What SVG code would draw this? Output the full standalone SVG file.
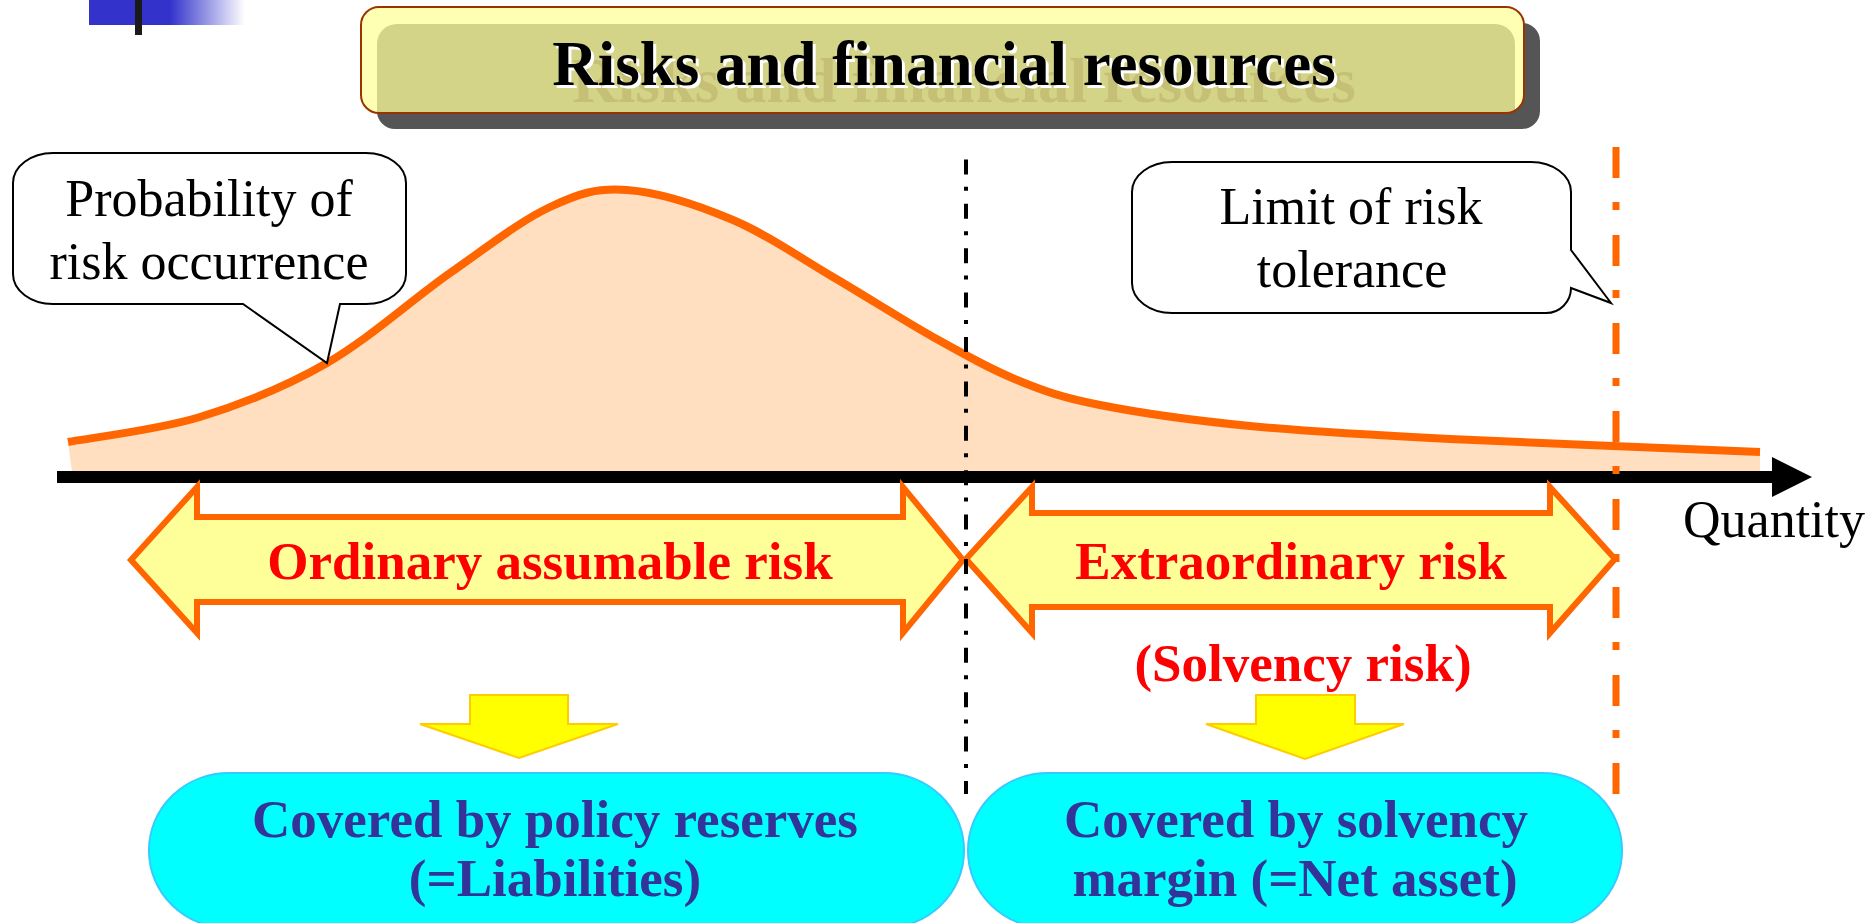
<svg xmlns="http://www.w3.org/2000/svg" width="1872" height="923" viewBox="0 0 1872 923">
  <style>
    .serif { font-family: "Liberation Serif", "Times New Roman", serif; }
    .callout-text { font-family: "Liberation Serif", "Times New Roman", serif; font-size: 52px; fill: #000; text-anchor: middle; }
    .callout { fill: #fff; stroke: #000; stroke-width: 2; stroke-linejoin: miter; }
    .risk-arrow { fill: #ffff99; stroke: #ff6600; stroke-width: 6; stroke-linejoin: miter; stroke-miterlimit: 10; }
    .risk-text { font-family: "Liberation Serif", "Times New Roman", serif; font-size: 53px; font-weight: bold; fill: #ff0000; text-anchor: middle; }
    .down-arrow { fill: #ffff00; stroke: #ffcc00; stroke-width: 2; stroke-linejoin: miter; }
    .cover-box { fill: #00ffff; stroke: #33ccff; stroke-width: 2; }
    .cover-text { font-family: "Liberation Serif", "Times New Roman", serif; font-size: 53px; font-weight: bold; fill: #333399; text-anchor: middle; }
    .title-text { font-family: "Liberation Serif", "Times New Roman", serif; font-size: 63px; font-weight: bold; text-anchor: middle; }
  </style>
  <defs>
    <linearGradient id="logoFade" x1="0" y1="0" x2="1" y2="0">
      <stop offset="0" stop-color="#3333cc"/>
      <stop offset="0.52" stop-color="#3333cc"/>
      <stop offset="1" stop-color="#ffffff"/>
    </linearGradient>
    <clipPath id="titleClip">
      <rect x="361" y="7" width="1163" height="106" rx="18" ry="18"/>
    </clipPath>
  </defs>

  <rect width="1872" height="923" fill="#ffffff"/>

  <!-- corner logo -->
  <g id="logo">
    <rect x="89" y="0" width="156" height="25" fill="url(#logoFade)"/>
    <rect x="135" y="0" width="7" height="35" fill="#1a1a1a"/>
  </g>

  <!-- title banner -->
  <g id="title">
    <rect x="377" y="23" width="1163" height="106" rx="18" ry="18" fill="#555555"/>
    <rect x="361" y="7" width="1163" height="106" rx="18" ry="18" fill="#ffffb3"/>
    <g clip-path="url(#titleClip)">
      <rect x="377" y="24" width="1138" height="130" rx="20" ry="20" fill="#d4d488"/>
      <text class="title-text" x="964" y="102" fill="#c6bf76">Risks and financial resources</text>
    </g>
    <rect x="361" y="7" width="1163" height="106" rx="18" ry="18" fill="none" stroke="#993300" stroke-width="2"/>
    <text class="title-text" x="947" y="88" fill="#ffffff">Risks and financial resources</text>
    <text class="title-text" x="944" y="85" fill="#000000">Risks and financial resources</text>
  </g>

  <!-- probability density curve -->
  <g id="density-curve">
    <path d="M68,442 C90,437.8 156.8,430.2 200,417 C243.2,403.8 285.3,387 327,363 C368.7,339 412.8,299 450,273 C487.2,247 520.5,220.8 550,207 C579.5,193.2 596.5,187.8 627,190 C657.5,192.2 698.7,205.5 733,220 C767.3,234.5 799.7,257.5 833,277 C866.3,296.5 902.3,319.8 933,337 C963.7,354.2 989.2,368.7 1017,380 C1044.8,391.3 1061.2,397.3 1100,405 C1138.8,412.7 1191.7,420.3 1250,426 C1308.3,431.7 1365,434.7 1450,439 C1535,443.3 1708.3,449.8 1760,452 L1760,472 L72,472 Z" fill="#ffdfc0" stroke="none"/>
    <path d="M68,442 C90,437.8 156.8,430.2 200,417 C243.2,403.8 285.3,387 327,363 C368.7,339 412.8,299 450,273 C487.2,247 520.5,220.8 550,207 C579.5,193.2 596.5,187.8 627,190 C657.5,192.2 698.7,205.5 733,220 C767.3,234.5 799.7,257.5 833,277 C866.3,296.5 902.3,319.8 933,337 C963.7,354.2 989.2,368.7 1017,380 C1044.8,391.3 1061.2,397.3 1100,405 C1138.8,412.7 1191.7,420.3 1250,426 C1308.3,431.7 1365,434.7 1450,439 C1535,443.3 1708.3,449.8 1760,452" fill="none" stroke="#ff6600" stroke-width="8"/>
  </g>

  <!-- quantity axis -->
  <g id="axis">
    <line x1="57" y1="477" x2="1776" y2="477" stroke="#000000" stroke-width="12"/>
    <polygon points="1772,457 1812,477 1772,497" fill="#000000"/>
    <text class="serif" x="1683" y="537" font-size="52" fill="#000000">Quantity</text>
  </g>

  <!-- risk range arrows -->
  <g id="arrow-ordinary">
    <polygon class="risk-arrow" points="131,560 197,487 197,517 903,517 903,487 963,560 903,633 903,602 197,602 197,633"/>
    <text class="risk-text" x="550" y="579">Ordinary assumable risk</text>
  </g>
  <g id="arrow-extraordinary">
    <polygon class="risk-arrow" points="966,559 1032,487 1032,513 1550,513 1550,487 1615,559 1550,633 1550,607 1032,607 1032,633"/>
    <text class="risk-text" x="1291" y="579">Extraordinary risk</text>
  </g>
  <g id="solvency-label">
    <text class="risk-text" x="1303" y="681">(Solvency risk)</text>
  </g>

  <!-- boundary lines -->
  <g id="boundaries">
    <line x1="966" y1="155" x2="966" y2="794" stroke="#000000" stroke-width="4" stroke-dasharray="15 12.4 4 13" stroke-dashoffset="40"/>
    <line x1="1616" y1="147" x2="1616" y2="794" stroke="#ff6600" stroke-width="7" stroke-dasharray="31 24 8 25"/>
  </g>

  <!-- speech bubbles -->
  <g id="callout-probability">
    <path class="callout" d="M53,153 H366 A40 30 0 0 1 406,183 V274 A40 30 0 0 1 366,304 H340 L327,363 L243,304 H53 A40 30 0 0 1 13,274 V183 A40 30 0 0 1 53,153 Z"/>
    <text class="callout-text" x="209" y="216">Probability of</text>
    <text class="callout-text" x="209" y="279">risk occurrence</text>
  </g>
  <g id="callout-limit">
    <path class="callout" d="M1172,162 H1531 A40 30 0 0 1 1571,192 V250 L1611,303 L1571,288 A25 25 0 0 1 1546,313 H1172 A40 30 0 0 1 1132,283 V192 A40 30 0 0 1 1172,162 Z"/>
    <text class="callout-text" x="1351" y="224">Limit of risk</text>
    <text class="callout-text" x="1352" y="287">tolerance</text>
  </g>

  <!-- downward connectors -->
  <g id="connectors">
    <polygon class="down-arrow" points="470,695 568,695 568,724 618,724 519,758 420,724 470,724"/>
    <polygon class="down-arrow" points="1256,695 1355,695 1355,724 1404,724 1305,759 1206,724 1256,724"/>
  </g>

  <!-- coverage boxes -->
  <g id="box-reserves">
    <rect class="cover-box" x="149" y="773" width="815" height="155" rx="80" ry="77"/>
    <text class="cover-text" x="555" y="837">Covered by policy reserves</text>
    <text class="cover-text" x="555" y="896">(=Liabilities)</text>
  </g>
  <g id="box-margin">
    <rect class="cover-box" x="968" y="773" width="654" height="155" rx="80" ry="77"/>
    <text class="cover-text" x="1296" y="837">Covered by solvency</text>
    <text class="cover-text" x="1295" y="896">margin (=Net asset)</text>
  </g>
</svg>
